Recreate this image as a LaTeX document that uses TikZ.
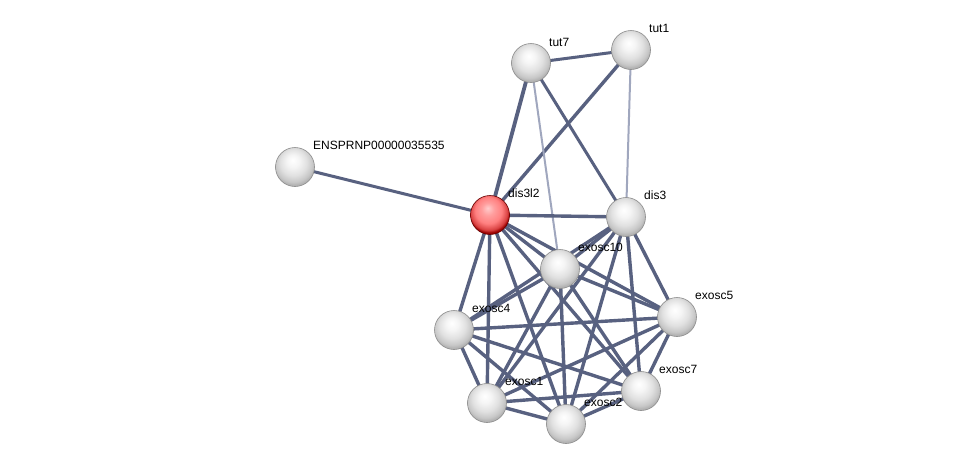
\documentclass[tikz,border=0pt]{standalone}
\usepackage{fontspec}
\setmainfont{Liberation Sans}
\pgfdeclareradialshading{graysphere}{\pgfpoint{-3bp}{9bp}}{color(0bp)=(white); color(8bp)=(white!96!black); color(17bp)=(white!88!black); color(24bp)=(white!78!black); color(27bp)=(white!70!black); color(50bp)=(white!70!black)}
\pgfdeclareradialshading{redsphere}{\pgfpoint{-3bp}{9bp}}{color(0bp)=(white!80!red); color(8bp)=(white!62!red); color(17bp)=(white!50!red); color(24bp)=(red!70!white!85!black); color(27bp)=(red!60!black); color(50bp)=(red!60!black)}
\begin{document}
\begin{tikzpicture}[x=1pt,y=-1pt,
  prot/.style={circle,minimum size=39pt,inner sep=0pt,draw=white!55!black,line width=0.6pt,shading=graysphere},
  seed/.style={circle,minimum size=39pt,inner sep=0pt,draw=red!40!black,line width=0.6pt,shading=redsphere},
  lbl/.style={anchor=base west,font=\fontsize{12}{14}\selectfont,inner sep=0pt},
  ethick/.style={draw={rgb,255:red,88;green,97;blue,128},line width=3.8pt},
  emid/.style={draw={rgb,255:red,88;green,97;blue,128},line width=3.4pt},
  ethin/.style={draw={rgb,255:red,160;green,167;blue,190},line width=2pt}]
\useasboundingbox (0,0) rectangle (976,469);
\fill[white] (0,0) rectangle (976,469);
% coordinates
\coordinate (ctut7) at (531,63);
\coordinate (ctut1) at (631,50);
\coordinate (cens) at (295,167);
\coordinate (cd3l2) at (490,215);
\coordinate (cdis3) at (626,217);
\coordinate (ce10) at (560,269);
\coordinate (ce4) at (454,330);
\coordinate (ce5) at (677,317);
\coordinate (ce7) at (641,391);
\coordinate (ce1) at (487,403);
\coordinate (ce2) at (566,424);
% edges
\draw[emid,line width=3pt] (ctut7) -- (ctut1);
\draw[ethick] (ctut7) -- (cd3l2);
\draw[emid] (ctut1) -- (cd3l2);
\draw[emid,line width=3pt] (ctut7) -- (cdis3);
\draw[ethin] (ctut7) -- (ce10);
\draw[ethin] (ctut1) -- (cdis3);
\draw[emid,line width=3pt] (cens) -- (cd3l2);
\draw[emid] (cd3l2) -- (cdis3);
\foreach \a/\b in {cd3l2/ce10,cd3l2/ce4,cd3l2/ce5,cd3l2/ce7,cd3l2/ce1,cd3l2/ce2,
  cdis3/ce10,cdis3/ce4,cdis3/ce5,cdis3/ce7,cdis3/ce1,cdis3/ce2,
  ce10/ce4,ce10/ce5,ce10/ce7,ce10/ce1,ce10/ce2,
  ce4/ce5,ce4/ce7,ce4/ce1,ce4/ce2,
  ce5/ce7,ce5/ce1,ce5/ce2,
  ce7/ce1,ce7/ce2,ce1/ce2}
  \draw[emid] (\a) -- (\b);
% nodes
\node[prot] (tut7) at (ctut7) {};
\node[prot] (tut1) at (ctut1) {};
\node[prot] (ens) at (cens) {};
\node[seed] (dis3l2) at (cd3l2) {};
\node[prot] (dis3) at (cdis3) {};
\node[prot] (exosc10) at (ce10) {};
\node[prot] (exosc4) at (ce4) {};
\node[prot] (exosc5) at (ce5) {};
\node[prot] (exosc7) at (ce7) {};
\node[prot] (exosc1) at (ce1) {};
\node[prot] (exosc2) at (ce2) {};
% labels
\node[lbl] (ltut7) at ([shift={(18,-17)}]ctut7) {tut7};
\node[lbl] (ltut1) at ([shift={(18,-18)}]ctut1) {tut1};
\node[lbl] (lens) at ([shift={(18,-18)}]cens) {ENSPRNP00000035535};
\node[lbl] (ldis3l2) at ([shift={(18,-18)}]cd3l2) {dis3l2};
\node[lbl] (ldis3) at ([shift={(18,-18)}]cdis3) {dis3};
\node[lbl] (lexosc10) at ([shift={(18,-18)}]ce10) {exosc10};
\node[lbl] (lexosc4) at ([shift={(18,-18)}]ce4) {exosc4};
\node[lbl] (lexosc5) at ([shift={(18,-18)}]ce5) {exosc5};
\node[lbl] (lexosc7) at ([shift={(18,-18)}]ce7) {exosc7};
\node[lbl] (lexosc1) at ([shift={(18,-18)}]ce1) {exosc1};
\node[lbl] (lexosc2) at ([shift={(18,-18)}]ce2) {exosc2};
\end{tikzpicture}
\end{document}
